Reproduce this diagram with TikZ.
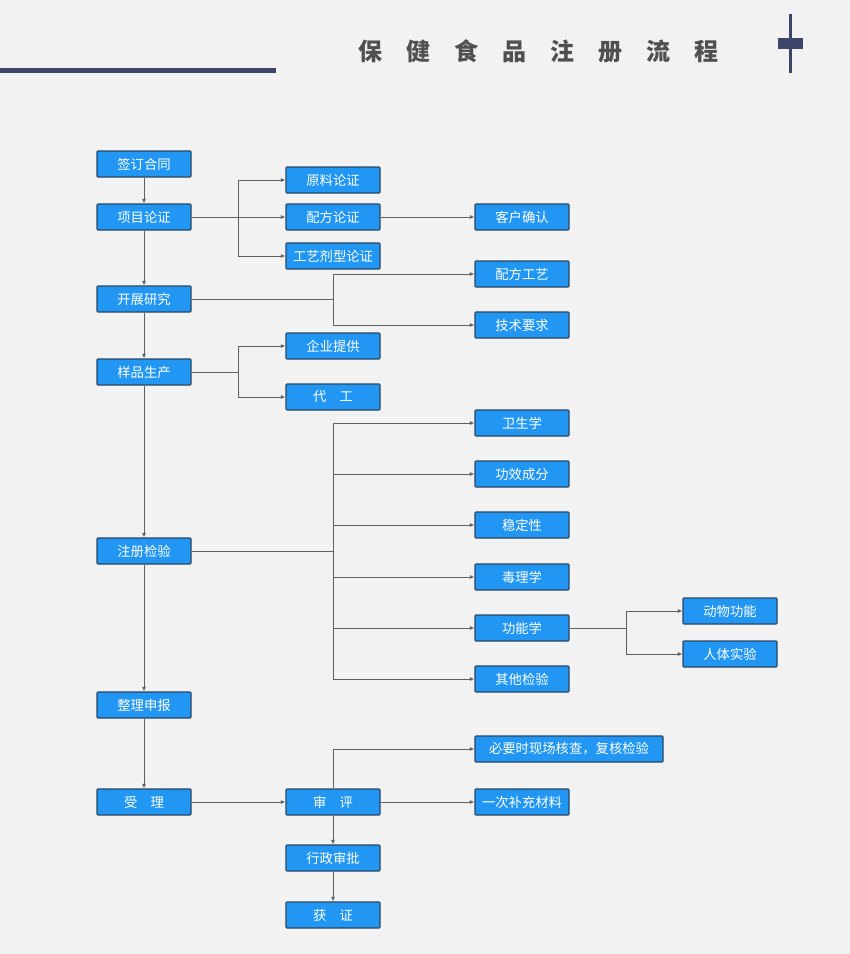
\documentclass[tikz,border=0pt]{standalone}
\usepackage{fontspec}
\newfontfamily\cjk{Noto Sans CJK SC}
\usetikzlibrary{arrows.meta}
\definecolor{bg}{HTML}{F2F2F2}
\definecolor{boxblue}{HTML}{2196F3}
\definecolor{boxborder}{HTML}{2A4763}
\definecolor{navy}{HTML}{3B4668}
\definecolor{titlegray}{HTML}{505050}
\definecolor{linegray}{HTML}{606060}
\tikzset{
  box/.style={draw=boxborder, line width=0.8pt, fill=boxblue, text=white, rounded corners=0.6pt,
    minimum width=70.5pt, minimum height=19.5pt, inner sep=0pt,
    font=\cjk\fontsize{10}{12}\selectfont},
  widebox/.style={box, minimum width=141pt},
  conn/.style={draw=linegray, line width=0.75pt},
  arr/.style={conn, -{Latex[length=3.5pt,width=3pt]}},
}
\begin{document}
\begin{tikzpicture}[x=0.75pt,y=-0.75pt]
\useasboundingbox (0,0) rectangle (850,954);
\fill[bg] (0,0) rectangle (850,954);
% header
\fill[navy] (0,68) rectangle (276,73);
\fill[navy] (789,14) rectangle (792,73);
\fill[navy] (778,38) rectangle (803,49);
\node[font=\cjk\bfseries\fontsize{18}{20}\selectfont, text=titlegray, inner sep=0pt] (title) at (538,51)
  {保\hspace{18pt}健\hspace{18pt}食\hspace{18pt}品\hspace{18pt}注\hspace{18pt}册\hspace{18pt}流\hspace{18pt}程};
% column 1
\node[box] (qd) at (144,164) {签订合同};
\node[box] (xm) at (144,217) {项目论证};
\node[box] (kz) at (144,299) {开展研究};
\node[box] (yp) at (144,372) {样品生产};
\node[box] (zc) at (144,551) {注册检验};
\node[box] (zl) at (144,705) {整理申报};
\node[box] (sl) at (144,802) {受　理};
% column 2
\node[box] (yl) at (333,180) {原料论证};
\node[box] (pf) at (333,217) {配方论证};
\node[box] (gy) at (333,256) {工艺剂型论证};
\node[box] (qy) at (333,346) {企业提供};
\node[box] (dg) at (333,397) {代　工};
\node[box] (sp) at (333,802) {审　评};
\node[box] (xz) at (333,858) {行政审批};
\node[box] (hz) at (333,915) {获　证};
% column 3
\node[box] (kh) at (522,217) {客户确认};
\node[box] (pg) at (522,274) {配方工艺};
\node[box] (js) at (522,325) {技术要求};
\node[box] (ws) at (522,423) {卫生学};
\node[box] (gx) at (522,474) {功效成分};
\node[box] (wd) at (522,525) {稳定性};
\node[box] (dl) at (522,577) {毒理学};
\node[box] (gn) at (522,628) {功能学};
\node[box] (qt) at (522,679) {其他检验};
\node[widebox] (by) at (569,749) {必要时现场核查，复核检验};
\node[box] (yc) at (522,802) {一次补充材料};
% column 4
\node[box] (dw) at (730,611) {动物功能};
\node[box] (rt) at (730,654) {人体实验};
% branch points
\coordinate (b1) at (238,217);
\coordinate (b2) at (333,299);
\coordinate (b3) at (238,372);
\coordinate (b4) at (333,551);
\coordinate (b5) at (626,628);
% main column
\draw[arr] (qd) -- (xm);
\draw[arr] (xm) -- (kz);
\draw[arr] (kz) -- (yp);
\draw[arr] (yp) -- (zc);
\draw[arr] (zc) -- (zl);
\draw[arr] (zl) -- (sl);
% 项目论证
\draw[arr] (xm) -- (pf);
\draw[arr] (b1) |- (yl.west);
\draw[arr] (b1) |- (gy.west);
\draw[arr] (pf) -- (kh);
% 开展研究
\draw[conn] (kz.east) -- (b2);
\draw[arr] (b2) |- (pg.west);
\draw[arr] (b2) |- (js.west);
% 样品生产
\draw[conn] (yp.east) -- (b3);
\draw[arr] (b3) |- (qy.west);
\draw[arr] (b3) |- (dg.west);
% 注册检验
\draw[conn] (zc.east) -- (b4);
\draw[arr] (b4) |- (ws.west);
\draw[arr] (b4) |- (gx.west);
\draw[arr] (b4) |- (wd.west);
\draw[arr] (b4) |- (dl.west);
\draw[arr] (b4) |- (gn.west);
\draw[arr] (b4) |- (qt.west);
% 功能学
\draw[conn] (gn.east) -- (b5);
\draw[arr] (b5) |- (dw.west);
\draw[arr] (b5) |- (rt.west);
% 受理 / 审评
\draw[arr] (sl) -- (sp);
\draw[arr] (sp.north) |- (by.west);
\draw[arr] (sp) -- (yc);
\draw[arr] (sp) -- (xz);
\draw[arr] (xz) -- (hz);
\end{tikzpicture}
\end{document}
